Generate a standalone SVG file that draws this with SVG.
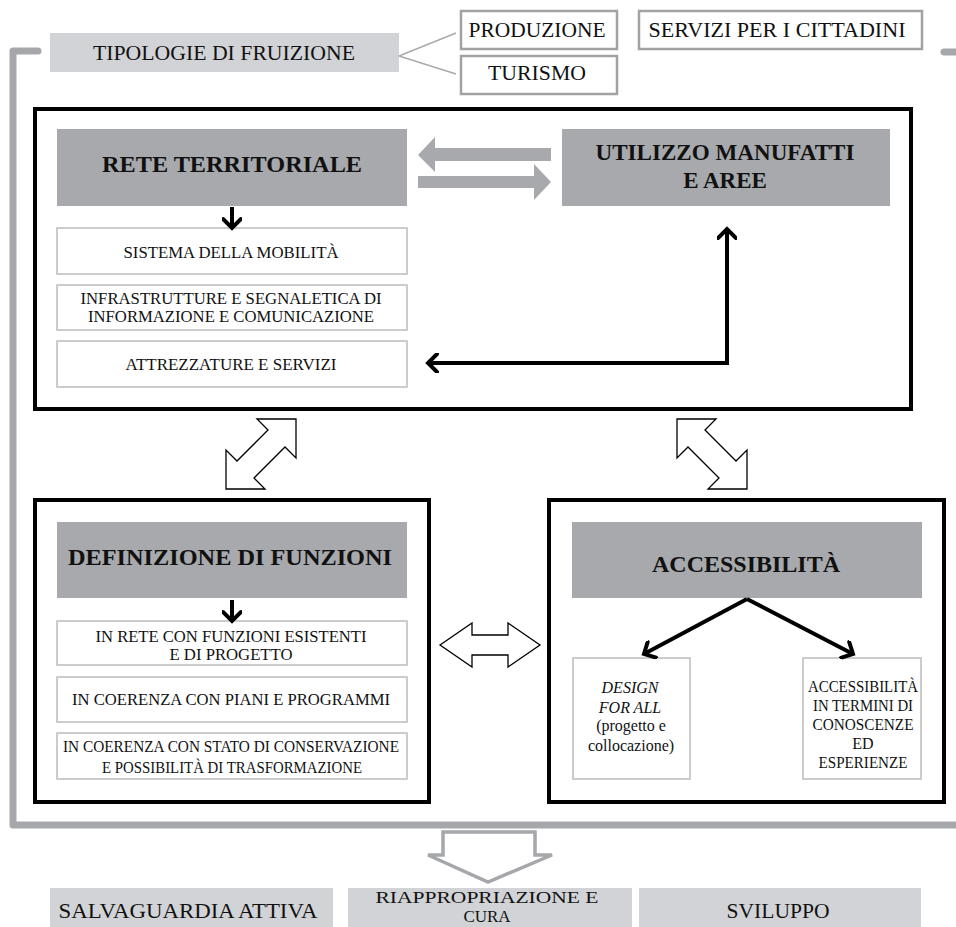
<svg xmlns="http://www.w3.org/2000/svg" width="956" height="927" viewBox="0 0 956 927">
<defs>
<style>
.t{font-family:"Liberation Serif","Times New Roman",serif;fill:#111;text-anchor:middle}
.b{font-weight:bold}
.i{font-style:italic}
.frame{fill:#fff;stroke:#000;stroke-width:4}
.hdr{fill:#a7a9ac}
.lt{fill:#d1d3d6}
.item{fill:#fff;stroke:#bcbcbc;stroke-width:1.5}
.tbox{fill:#fff;stroke:#a2a2a2;stroke-width:2.5}
.blk{fill:none;stroke:#000;stroke-width:4}
.dbl{fill:#fff;stroke:#000;stroke-width:1.3;stroke-linejoin:miter}
.gar{fill:#a7a9ac}
</style>
<marker id="chev" viewBox="0 0 20 20" refX="15" refY="10" markerWidth="20" markerHeight="20" markerUnits="userSpaceOnUse" orient="auto">
<path d="M6,1 L15,10 L6,19" fill="none" stroke="#000" stroke-width="4" stroke-linecap="round" stroke-linejoin="miter"/>
</marker>
</defs>
<rect width="956" height="927" fill="#fff"/>

<g id="bracket">
<path d="M38,51 H13 V825 H956" fill="none" stroke="#a5a7aa" stroke-width="7" stroke-linejoin="round" stroke-linecap="round"/>
<path d="M944,52 H956" fill="none" stroke="#a5a7aa" stroke-width="7" stroke-linecap="round"/>
</g>

<g id="tipologie">
<rect class="lt" x="50" y="33" width="349" height="39"/>
<text class="t" x="224" y="60" font-size="22" textLength="262" lengthAdjust="spacingAndGlyphs">TIPOLOGIE DI FRUIZIONE</text>
</g>
<g id="produzione">
<rect class="tbox" x="461" y="11" width="156" height="38"/>
<text class="t" x="537" y="37" font-size="22" textLength="137" lengthAdjust="spacingAndGlyphs">PRODUZIONE</text>
</g>
<g id="turismo">
<rect class="tbox" x="461" y="56" width="156" height="38"/>
<text class="t" x="537" y="80" font-size="22" textLength="98" lengthAdjust="spacingAndGlyphs">TURISMO</text>
</g>
<g id="servizi">
<rect class="tbox" x="639" y="11" width="283" height="38"/>
<text class="t" x="777" y="37" font-size="22" textLength="257" lengthAdjust="spacingAndGlyphs">SERVIZI PER I CITTADINI</text>
</g>

<g id="frame-top">
<rect class="frame" x="35" y="109" width="876" height="300"/>
</g>
<g id="frame-left">
<rect class="frame" x="35" y="500" width="394" height="302"/>
</g>
<g id="frame-right">
<rect class="frame" x="549" y="500" width="395" height="302"/>
</g>

<g id="rete">
<rect class="hdr" x="57" y="129" width="350" height="77"/>
<text class="t b" x="232" y="172" font-size="24" textLength="260" lengthAdjust="spacingAndGlyphs">RETE TERRITORIALE</text>
</g>
<g id="mobilita">
<rect class="item" x="57" y="228" width="350" height="46"/>
<text class="t" x="231" y="258" font-size="16.5" textLength="215" lengthAdjust="spacingAndGlyphs">SISTEMA DELLA MOBILITÀ</text>
</g>
<g id="infrastrutture">
<rect class="item" x="57" y="285" width="350" height="45"/>
<text class="t" x="231" y="304" font-size="16.5" textLength="301" lengthAdjust="spacingAndGlyphs">INFRASTRUTTURE E SEGNALETICA DI</text>
<text class="t" x="231" y="322" font-size="16.5" textLength="286" lengthAdjust="spacingAndGlyphs">INFORMAZIONE E COMUNICAZIONE</text>
</g>
<g id="attrezzature">
<rect class="item" x="57" y="341" width="350" height="46"/>
<text class="t" x="231" y="370" font-size="16.5" textLength="211" lengthAdjust="spacingAndGlyphs">ATTREZZATURE E SERVIZI</text>
</g>
<g id="utilizzo">
<rect class="hdr" x="562" y="129" width="328" height="77"/>
<text class="t b" x="725" y="160" font-size="23" textLength="259" lengthAdjust="spacingAndGlyphs">UTILIZZO MANUFATTI</text>
<text class="t b" x="725" y="188" font-size="23">E AREE</text>
</g>

<g id="definizione">
<rect class="hdr" x="57" y="522" width="350" height="76"/>
<text class="t b" x="230" y="565" font-size="24" textLength="324" lengthAdjust="spacingAndGlyphs">DEFINIZIONE DI FUNZIONI</text>
</g>
<g id="inrete">
<rect class="item" x="57" y="621" width="350" height="44"/>
<text class="t" x="231" y="642" font-size="16.5" textLength="271" lengthAdjust="spacingAndGlyphs">IN RETE CON FUNZIONI ESISTENTI</text>
<text class="t" x="231" y="660" font-size="16.5" textLength="123" lengthAdjust="spacingAndGlyphs">E DI PROGETTO</text>
</g>
<g id="piani">
<rect class="item" x="57" y="677" width="350" height="45"/>
<text class="t" x="231" y="705" font-size="16.5" textLength="318" lengthAdjust="spacingAndGlyphs">IN COERENZA CON PIANI E PROGRAMMI</text>
</g>
<g id="conservazione">
<rect class="item" x="57" y="733" width="350" height="46"/>
<text class="t" x="231" y="752" font-size="16.5" textLength="336" lengthAdjust="spacingAndGlyphs">IN COERENZA CON STATO DI CONSERVAZIONE</text>
<text class="t" x="232" y="773" font-size="16.5" textLength="260" lengthAdjust="spacingAndGlyphs">E POSSIBILITÀ DI TRASFORMAZIONE</text>
</g>

<g id="accessibilita">
<rect class="hdr" x="572" y="522" width="350" height="76"/>
<text class="t b" x="746" y="572" font-size="24" textLength="188" lengthAdjust="spacingAndGlyphs">ACCESSIBILITÀ</text>
</g>
<g id="design">
<rect class="item" x="573" y="658" width="117" height="121"/>
<text class="t i" x="630" y="693" font-size="16">DESIGN</text>
<text class="t i" x="630" y="713" font-size="16">FOR ALL</text>
<text class="t" x="631" y="731" font-size="16">(progetto e</text>
<text class="t" x="631" y="751" font-size="16">collocazione)</text>
</g>
<g id="conoscenze">
<rect class="item" x="803" y="658" width="118" height="121"/>
<text class="t" x="863" y="692" font-size="16" textLength="110" lengthAdjust="spacingAndGlyphs">ACCESSIBILITÀ</text>
<text class="t" x="863" y="711" font-size="16" textLength="100" lengthAdjust="spacingAndGlyphs">IN TERMINI DI</text>
<text class="t" x="863" y="730" font-size="16" textLength="101" lengthAdjust="spacingAndGlyphs">CONOSCENZE</text>
<text class="t" x="863" y="749" font-size="16">ED</text>
<text class="t" x="863" y="768" font-size="16" textLength="89" lengthAdjust="spacingAndGlyphs">ESPERIENZE</text>
</g>

<g id="salvaguardia">
<rect class="lt" x="50" y="888" width="283" height="39"/>
<text class="t" x="188" y="918" font-size="22" textLength="259" lengthAdjust="spacingAndGlyphs">SALVAGUARDIA ATTIVA</text>
</g>
<g id="riappropriazione">
<rect class="lt" x="348" y="888" width="284" height="39"/>
<text class="t" x="487" y="903" font-size="17" textLength="223" lengthAdjust="spacingAndGlyphs">RIAPPROPRIAZIONE E</text>
<text class="t" x="487" y="922" font-size="17">CURA</text>
</g>
<g id="sviluppo">
<rect class="lt" x="639" y="888" width="282" height="39"/>
<text class="t" x="778" y="918" font-size="22" textLength="103" lengthAdjust="spacingAndGlyphs">SVILUPPO</text>
</g>

<g id="connectors">
<path d="M399,56 L456,33 M399,56 L456,74" fill="none" stroke="#aaaaaa" stroke-width="1.5"/>
<polygon class="gar" points="418,155 435,137 435,148 551,148 551,161 435,161 435,172"/>
<polygon class="gar" points="551,182 534,164 534,176 418,176 418,188 534,188 534,200"/>
<path class="blk" d="M232,207 V228" marker-end="url(#chev)"/>
<path class="blk" d="M232,600 V621" marker-end="url(#chev)"/>
<path class="blk" d="M727,230 V363 H428" marker-end="url(#chev)"/>
<path class="blk" d="M727,363 V229" marker-end="url(#chev)"/>
<path class="blk" d="M747,599 L644,654" marker-end="url(#chev)"/>
<path class="blk" d="M747,599 L853,654" marker-end="url(#chev)"/>
<polygon class="dbl" transform="translate(261,454) scale(-1,1)" points="-35,-35 4,-35 -7,-24 24,7 35,-4 35,35 -4,35 7,24 -24,-7 -35,4"/>
<polygon class="dbl" transform="translate(712,454)" points="-35,-35 4,-35 -7,-24 24,7 35,-4 35,35 -4,35 7,24 -24,-7 -35,4"/>
<polygon class="dbl" points="440,645 472,623 472,635 508,635 508,623 540,645 508,667 508,655 472,655 472,667"/>
<polygon points="443,832 535,832 535,855 552,855 488,882 428,855 443,855" fill="#fff" stroke="#a5a7aa" stroke-width="3.5" stroke-linejoin="miter"/>
</g>
</svg>
